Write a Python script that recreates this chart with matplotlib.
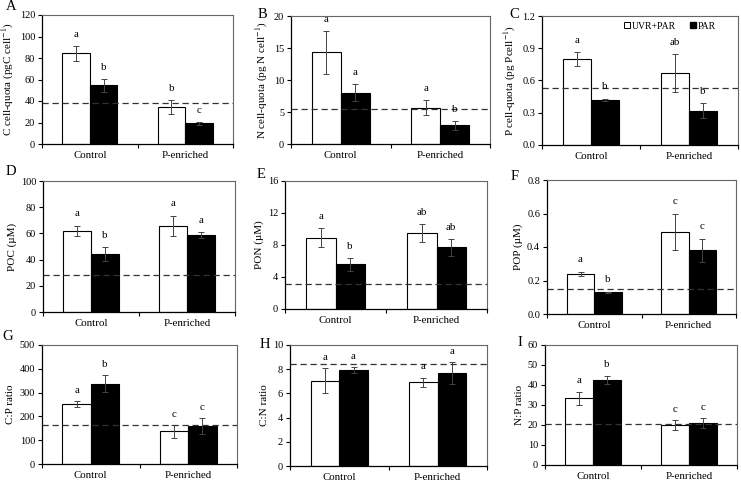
import matplotlib
matplotlib.use('Agg')
import matplotlib.pyplot as plt
from matplotlib.patches import Patch
from matplotlib.ticker import FormatStrFormatter

plt.rcParams['font.family'] = ['Liberation Serif', 'DejaVu Serif']
plt.rcParams['mathtext.fontset'] = 'stix'

groups = ['Control', 'P-enriched']

# A - C cell quota
c_quota_uvr = [84.3, 34.2]
c_quota_uvr_sd = [7.0, 6.3]
c_quota_par = [54.6, 19.2]
c_quota_par_sd = [6.2, 1.2]
c_quota_ref = 37.8
c_quota_letters = ['a', 'b', 'b', 'c']

# B - N cell quota
n_quota_uvr = [14.3, 5.7]
n_quota_uvr_sd = [3.4, 1.1]
n_quota_par = [8.0, 2.9]
n_quota_par_sd = [1.3, 0.7]
n_quota_ref = 5.5
n_quota_letters = ['a', 'a', 'a', 'b']

# C - P cell quota
p_quota_uvr = [0.80, 0.67]
p_quota_uvr_sd = [0.065, 0.18]
p_quota_par = [0.42, 0.32]
p_quota_par_sd = [0.012, 0.07]
p_quota_ref = 0.53
p_quota_letters = ['a', 'b', 'ab', 'b']

# D - POC
poc_uvr = [61.8, 65.6]
poc_uvr_sd = [4.1, 7.9]
poc_par = [44.3, 58.8]
poc_par_sd = [5.4, 2.4]
poc_ref = 28.3
poc_letters = ['a', 'b', 'a', 'a']

# E - PON
pon_uvr = [8.9, 9.5]
pon_uvr_sd = [1.2, 1.1]
pon_par = [5.6, 7.7]
pon_par_sd = [0.8, 1.1]
pon_ref = 3.1
pon_letters = ['a', 'b', 'ab', 'ab']

# F - POP
pop_uvr = [0.24, 0.49]
pop_uvr_sd = [0.012, 0.11]
pop_par = [0.13, 0.38]
pop_par_sd = [0.004, 0.068]
pop_ref = 0.15
pop_letters = ['a', 'b', 'c', 'c']

# G - C:P
cp_uvr = [253, 137]
cp_uvr_sd = [12, 28]
cp_par = [337, 160]
cp_par_sd = [35, 33]
cp_ref = 165
cp_letters = ['a', 'b', 'c', 'c']

# H - C:N
cn_uvr = [7.06, 6.93]
cn_uvr_sd = [1.0, 0.37]
cn_par = [7.9, 7.7]
cn_par_sd = [0.25, 0.9]
cn_ref = 8.45
cn_letters = ['a', 'a', 'a', 'a']

# I - N:P
np_uvr = [33.3, 20.0]
np_uvr_sd = [3.4, 2.6]
np_par = [42.5, 20.8]
np_par_sd = [2.2, 2.5]
np_ref = 20.6
np_letters = ['a', 'b', 'c', 'c']

W, H = 741, 483
fig = plt.figure(figsize=(W / 100, H / 100), dpi=100)


def px_axes(x0, y0, x1, y1):
    return fig.add_axes([x0 / W, 1 - y1 / H, (x1 - x0) / W, (y1 - y0) / H])


def panel(box, uvr, uvr_sd, par, par_sd, ref, letters, ymax, step, ylabel, fmt, tag, tag_xy):
    ax = px_axes(*box)
    xs = [0, 1]
    bw = 0.29
    ekw = dict(ecolor='#444444', elinewidth=0.7, capsize=2, capthick=0.7)
    ax.bar([x - bw / 2 for x in xs], uvr, bw, yerr=uvr_sd, color='white',
           edgecolor='black', linewidth=0.8, error_kw=ekw, label='UVR+PAR')
    ax.bar([x + bw / 2 for x in xs], par, bw, yerr=par_sd, color='black',
           edgecolor='black', linewidth=0.8, error_kw=ekw, label='PAR')
    ax.axhline(ref, color='#333333', lw=0.9, dashes=(5, 3))
    pad = 0.09 * ymax
    tops = [uvr[0] + uvr_sd[0], par[0] + par_sd[0], uvr[1] + uvr_sd[1], par[1] + par_sd[1]]
    pos = [-bw / 2, bw / 2, 1 - bw / 2, 1 + bw / 2]
    for x, t, s in zip(pos, tops, letters):
        ax.text(x, t + pad, s, ha='center', va='center', fontsize=7.8)
    ax.set_xlim(-0.5, 1.5)
    ax.set_ylim(0, ymax)
    yt = [i * step for i in range(int(round(ymax / step)) + 1)]
    ax.set_yticks(yt)
    ax.yaxis.set_major_formatter(FormatStrFormatter(fmt))
    ax.set_xticks([-0.5, 0.5, 1.5])
    ax.set_xticklabels([])
    ax.set_xticks(xs, minor=True)
    ax.set_xticklabels(groups, minor=True)
    ax.tick_params(axis='x', which='minor', length=0, pad=5, labelsize=7.8)
    ax.tick_params(axis='x', which='major', length=3, width=0.8, direction='out')
    ax.tick_params(axis='y', length=3, width=0.8, direction='out', labelsize=7.4, pad=2)
    ax.set_ylabel(ylabel, fontsize=8, labelpad=3)
    for side in ['left', 'bottom']:
        ax.spines[side].set_color('black')
        ax.spines[side].set_linewidth(0.9)
    for side in ['top', 'right']:
        ax.spines[side].set_color('#666666')
        ax.spines[side].set_linewidth(0.8)
    fig.text(tag_xy[0] / W, 1 - tag_xy[1] / H, tag, fontsize=10.5, ha='center', va='center')
    return ax


panel((42, 15, 233, 144), c_quota_uvr, c_quota_uvr_sd, c_quota_par, c_quota_par_sd,
      c_quota_ref, c_quota_letters, 120, 20, r'C cell-quota (pgC cell$^{-1}$)', '%d', 'A', (11, 7))
panel((291, 16, 490, 144), n_quota_uvr, n_quota_uvr_sd, n_quota_par, n_quota_par_sd,
      n_quota_ref, n_quota_letters, 20, 5, r'N cell-quota (pg N cell$^{-1}$)', '%d', 'B', (262, 14))
axc = panel((542, 16, 738, 145), p_quota_uvr, p_quota_uvr_sd, p_quota_par, p_quota_par_sd,
            p_quota_ref, p_quota_letters, 1.2, 0.3, r'P cell-quota (pg Pcell$^{-1}$)', '%.1f', 'C', (514, 14))
panel((43, 181, 235, 312), poc_uvr, poc_uvr_sd, poc_par, poc_par_sd,
      poc_ref, poc_letters, 100, 20, 'POC (µM)', '%d', 'D', (11, 172))
panel((285, 181, 487, 309), pon_uvr, pon_uvr_sd, pon_par, pon_par_sd,
      pon_ref, pon_letters, 16, 4, 'PON (µM)', '%d', 'E', (261, 174))
panel((547, 180, 736, 314), pop_uvr, pop_uvr_sd, pop_par, pop_par_sd,
      pop_ref, pop_letters, 0.8, 0.2, 'POP (µM)', '%.1f', 'F', (515, 176))
panel((42, 345, 237, 464), cp_uvr, cp_uvr_sd, cp_par, cp_par_sd,
      cp_ref, cp_letters, 500, 100, 'C:P ratio', '%d', 'G', (8, 336))
panel((290, 345, 487, 466), cn_uvr, cn_uvr_sd, cn_par, cn_par_sd,
      cn_ref, cn_letters, 10, 2, 'C:N ratio', '%d', 'H', (265, 344))
panel((545, 345, 737, 465), np_uvr, np_uvr_sd, np_par, np_par_sd,
      np_ref, np_letters, 60, 10, 'N:P ratio', '%d', 'I', (520, 343))

handles = [Patch(facecolor='white', edgecolor='black', linewidth=0.7, label='UVR+PAR'),
           Patch(facecolor='black', edgecolor='black', label='PAR')]
axc.legend(handles=handles, loc='upper right', bbox_to_anchor=(0.92, 1.01), ncol=2,
           frameon=False, fontsize=7, handlelength=0.6, handleheight=0.6,
           handletextpad=0.15, columnspacing=1.5, borderaxespad=0.3)

fig.savefig('out.png', dpi=100)
